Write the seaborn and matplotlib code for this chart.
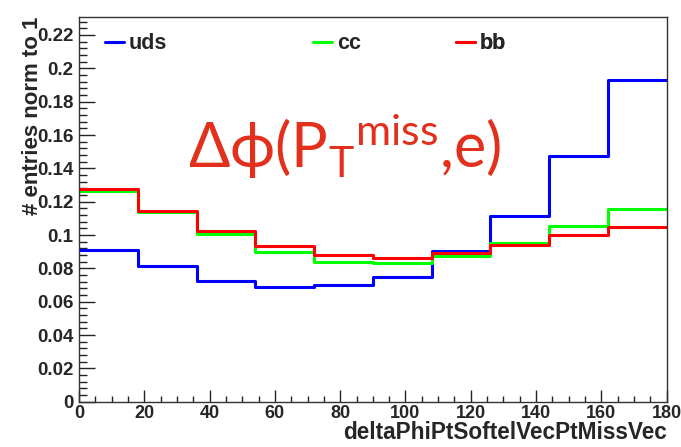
import numpy as np
import pandas as pd
import seaborn as sns
import matplotlib
matplotlib.use("Agg")
import matplotlib.pyplot as plt
from matplotlib.lines import Line2D
from matplotlib.ticker import MultipleLocator

# ---- data ----
bin_edges = [0, 18, 36, 54, 72, 90, 108, 126, 144, 162, 180]
uds = [0.0910, 0.0814, 0.0724, 0.0688, 0.0700, 0.0748, 0.0904, 0.1114, 0.1474, 0.1930]
cc = [0.1264, 0.1138, 0.1006, 0.0898, 0.0838, 0.0832, 0.0874, 0.0950, 0.1054, 0.1156]
bb = [0.1276, 0.1144, 0.1024, 0.0934, 0.0880, 0.0862, 0.0892, 0.0940, 0.1000, 0.1048]
series_names = ["uds", "cc", "bb"]
series_colors = {"uds": "#0000ff", "cc": "#00ff00", "bb": "#ff0000"}
x_ticks = [0, 20, 40, 60, 80, 100, 120, 140, 160, 180]
y_ticks = [0, 0.02, 0.04, 0.06, 0.08, 0.1, 0.12, 0.14, 0.16, 0.18, 0.2, 0.22]
y_tick_labels = ["0", "0.02", "0.04", "0.06", "0.08", "0.1", "0.12", "0.14",
                 "0.16", "0.18", "0.2", "0.22"]
x_label = "deltaPhiPtSoftelVecPtMissVec"
y_label = "# entries norm to 1"
annotation = r"$\mathrm{\Delta\phi(P_{T}{}^{miss}{,}e)}$"

sns.set_style("ticks")
plt.rcParams["font.family"] = ["Liberation Sans", "DejaVu Sans"]
plt.rcParams["mathtext.fontset"] = "custom"
plt.rcParams["mathtext.rm"] = "Lato"
plt.rcParams["mathtext.it"] = "Lato:italic"
plt.rcParams["mathtext.bf"] = "Lato:bold"

centers = [(a + b) / 2 for a, b in zip(bin_edges[:-1], bin_edges[1:])]
rows = []
for name, vals in zip(series_names, [uds, cc, bb]):
    for c, v in zip(centers, vals):
        rows.append({"x": c, "w": v, "sample": name})
df = pd.DataFrame(rows)

fig = plt.figure(figsize=(6.81, 4.47), dpi=100)
ax = fig.add_axes([0.116, 0.1013, 0.863, 0.8607])

for name in series_names:
    sub = df[df["sample"] == name]
    sns.histplot(data=sub, x="x", weights="w", bins=bin_edges, element="step",
                 fill=False, color=series_colors[name], linewidth=2.2, ax=ax)

ax.set_xlim(0, 180)
ax.set_ylim(0, 0.2308)
ax.set_xticks(x_ticks)
ax.set_xticklabels([str(v) for v in x_ticks])
ax.set_yticks(y_ticks)
ax.set_yticklabels(y_tick_labels)
ax.xaxis.set_minor_locator(MultipleLocator(5))
ax.yaxis.set_minor_locator(MultipleLocator(0.004))
ax.tick_params(axis="both", which="both", direction="in", width=1, color="#222222",
               labelsize=13.5)
ax.tick_params(axis="x", which="major", length=8.6, pad=2.5, labelsize=13)
ax.tick_params(axis="x", which="minor", length=4.3)
ax.tick_params(axis="y", which="major", length=11.5, pad=4)
ax.tick_params(axis="y", which="minor", length=5.8)
for lab in ax.get_xticklabels() + ax.get_yticklabels():
    lab.set_fontweight("bold")
for s in ax.spines.values():
    s.set_linewidth(1.0)
    s.set_color("#333333")
    s.set_visible(True)

ax.set_xlabel(x_label, fontsize=16.3, fontweight="bold", ha="right", x=1.0, labelpad=-0.5)
ax.set_ylabel(y_label, fontsize=16, fontweight="bold", ha="right")
ax.yaxis.set_label_coords(-0.062, 1.0)

# legends
legend_pos = {"uds": 0.044, "cc": 0.398, "bb": 0.641}
for name in series_names:
    h = Line2D([], [], color=series_colors[name], linewidth=2.2)
    leg = ax.legend([h], [name], loc="center left", bbox_to_anchor=(legend_pos[name], 0.930),
                    frameon=False, handlelength=0.88, handletextpad=0.23,
                    borderpad=0, borderaxespad=0,
                    prop={"weight": "bold", "size": 15.5})
    ax.add_artist(leg)

ax.text(0.186, 0.6075, annotation, transform=ax.transAxes, fontsize=44,
        fontweight="normal", color="#e2301c", ha="left", va="baseline")

fig.savefig("out.png", dpi=100)
